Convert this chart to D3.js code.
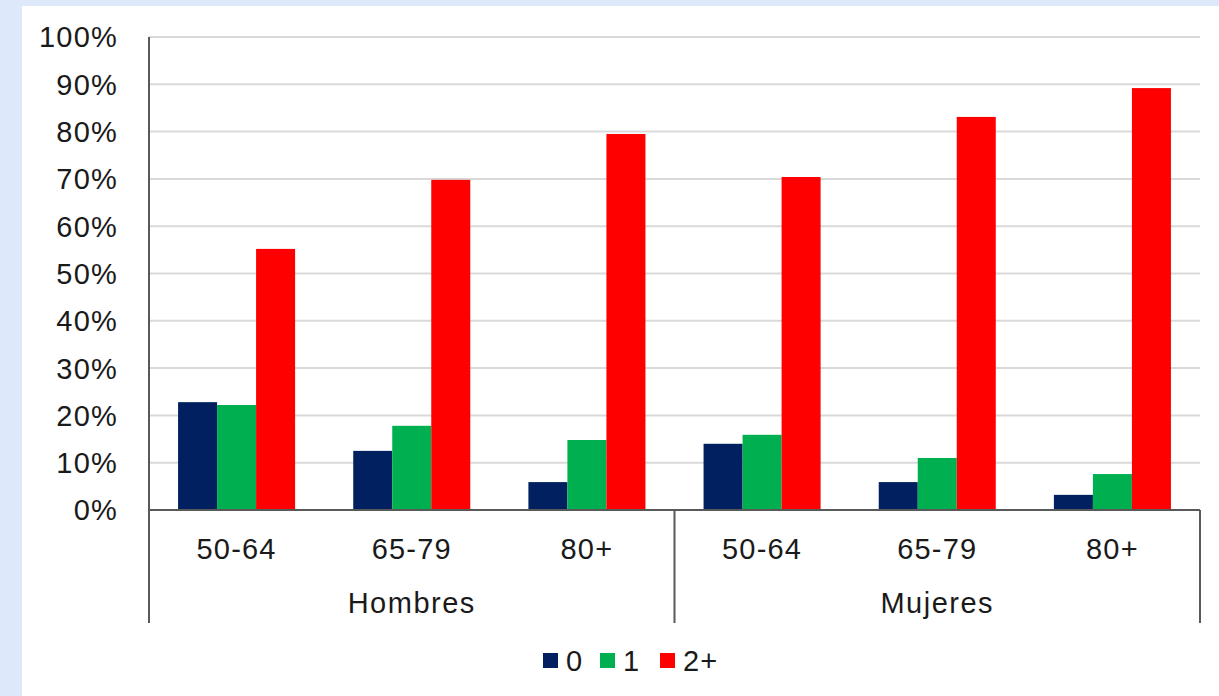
<!DOCTYPE html>
<html>
<head>
<meta charset="utf-8">
<script src="https://cdn.jsdelivr.net/npm/d3@7"></script>
<style>
  body { margin: 0; background: #dde9fb; }
  svg { display: block; }
  text { font-family: "Liberation Sans", Arial, sans-serif; fill: #1a1a1a; }
</style>
</head>
<body>
<svg id="chart" width="1219" height="696"></svg>
<script>
// data
var groups = ["Hombres", "Mujeres"];
var ages = ["50-64", "65-79", "80+"];
var series = ["0", "1", "2+"];
var colors = ["#002060", "#00b050", "#ff0000"];
var hombres = [[22.8, 22.2, 55.2], [12.5, 17.8, 69.8], [5.9, 14.8, 79.5]];
var mujeres = [[14.0, 15.9, 70.4], [5.9, 11.0, 83.1], [3.2, 7.6, 89.2]];
var yticks = [0, 10, 20, 30, 40, 50, 60, 70, 80, 90, 100];

var pLeft = 149, pRight = 1200, pTop = 37, pBottom = 510;
var fsize = 29;

var svg = d3.select('#chart');

svg.append('rect')
  .attr('x', 22).attr('y', 6)
  .attr('width', 1219 - 22).attr('height', 696 - 6)
  .attr('fill', '#fff');

var rows = [];
groups.forEach(function(g, gi){
  var vals = gi == 0 ? hombres : mujeres;
  ages.forEach(function(a, ai){
    rows.push({key: g + '|' + a, group: g, age: a, values: vals[ai]});
  });
});

var x0 = d3.scaleBand()
  .domain(rows.map(function(d){ return d.key; }))
  .range([pLeft, pRight]);

var x1 = d3.scaleBand()
  .domain(series)
  .range([0, x0.bandwidth()])
  .paddingOuter(0.745);

var y = d3.scaleLinear().domain([0, 100]).range([pBottom, pTop]);

// gridlines
svg.append('g').selectAll('line')
  .data(yticks.filter(function(t){ return t > 0; }))
  .enter().append('line')
  .attr('x1', pLeft).attr('x2', pRight)
  .attr('y1', function(d){ return y(d); })
  .attr('y2', function(d){ return y(d); })
  .attr('stroke', '#d9d9d9')
  .attr('stroke-width', 2);

// y labels
svg.append('g').selectAll('text')
  .data(yticks)
  .enter().append('text')
  .attr('x', 118)
  .attr('y', function(d){ return y(d); })
  .attr('dy', '0.36em')
  .attr('text-anchor', 'end')
  .attr('font-size', fsize)
  .attr('letter-spacing', 1.2)
  .text(function(d){ return d + '%'; });

// bars
var cat = svg.append('g').selectAll('g')
  .data(rows)
  .enter().append('g')
  .attr('transform', function(d){ return 'translate(' + x0(d.key) + ',0)'; });

cat.selectAll('rect')
  .data(function(d){ return d.values.map(function(v, i){ return {s: series[i], v: v, i: i}; }); })
  .enter().append('rect')
  .attr('x', function(d){ return x1(d.s); })
  .attr('width', x1.bandwidth())
  .attr('y', function(d){ return y(d.v); })
  .attr('height', function(d){ return pBottom - y(d.v); })
  .attr('fill', function(d){ return colors[d.i]; });

// axes lines
var axisColor = '#595959';
svg.append('line')
  .attr('x1', pLeft).attr('x2', pLeft)
  .attr('y1', pTop).attr('y2', 623)
  .attr('stroke', axisColor).attr('stroke-width', 2);
svg.append('line')
  .attr('x1', pLeft).attr('x2', pRight)
  .attr('y1', pBottom).attr('y2', pBottom)
  .attr('stroke', axisColor).attr('stroke-width', 2);
[x0(rows[3].key), pRight].forEach(function(xx){
  svg.append('line')
    .attr('x1', xx).attr('x2', xx)
    .attr('y1', pBottom).attr('y2', 623)
    .attr('stroke', axisColor).attr('stroke-width', 2);
});

// category labels
svg.append('g').selectAll('text')
  .data(rows)
  .enter().append('text')
  .attr('x', function(d){ return x0(d.key) + x0.bandwidth() / 2; })
  .attr('y', 549)
  .attr('dy', '0.36em')
  .attr('text-anchor', 'middle')
  .attr('font-size', fsize)
  .attr('letter-spacing', 1.2)
  .text(function(d){ return d.age; });

svg.append('g').selectAll('text')
  .data(groups)
  .enter().append('text')
  .attr('x', function(g){
    var first = x0(g + '|' + ages[0]);
    return first + x0.bandwidth() * ages.length / 2;
  })
  .attr('y', 603)
  .attr('dy', '0.36em')
  .attr('text-anchor', 'middle')
  .attr('font-size', fsize)
  .attr('letter-spacing', 1.5)
  .text(function(d){ return d; });

// legend
var legendX = [543, 600, 660];
var leg = svg.append('g').selectAll('g')
  .data(series)
  .enter().append('g')
  .attr('transform', function(d, i){ return 'translate(' + legendX[i] + ',661)'; });
leg.append('rect')
  .attr('x', 0).attr('y', -8)
  .attr('width', 15).attr('height', 15)
  .attr('fill', function(d, i){ return colors[i]; });
leg.append('text')
  .attr('x', 23).attr('y', 0)
  .attr('dy', '0.36em')
  .attr('font-size', fsize)
  .attr('letter-spacing', 1.2)
  .text(function(d){ return d; });
</script>
</body>
</html>
